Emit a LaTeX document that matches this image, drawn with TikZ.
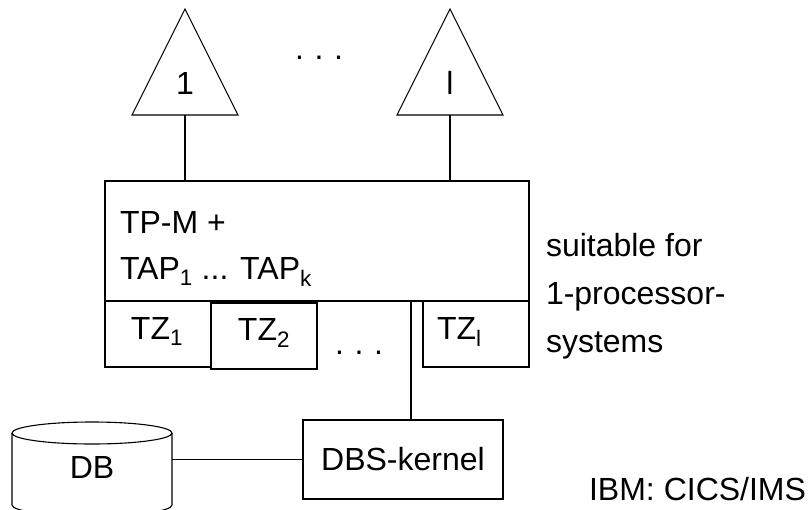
\documentclass[tikz,border=0pt]{standalone}
\usepackage{fontspec}
\setmainfont{Liberation Sans}
\begin{document}
\begin{tikzpicture}[x=1pt,y=-1pt,line width=1.1pt,
  every node/.style={inner sep=0pt,outer sep=0pt},
  lbl/.style={font=\fontsize{32}{38}\selectfont},
  box/.style={draw,minimum width=106pt,minimum height=66pt}]
\useasboundingbox (0,0) rectangle (811,509);
\clip (0,0) rectangle (811,509);

% terminals (triangles)
\draw (185,9) -- (238,115) -- (132,115) -- cycle;
\draw (450,9) -- (503,115) -- (397,115) -- cycle;
\coordinate (t1) at (185,115);
\coordinate (tl) at (450,115);
\node[lbl] (n1) at (185,83) {1};
\node[lbl] (nl) at (450,83) {l};
\node[lbl,anchor=base] (topdots) at (319,59) {.\,\,.\,\,.};

% TP monitor box
\node[draw,minimum width=424pt,minimum height=120pt] (main) at (317,241) {};
\node[lbl,anchor=base west] (tpm) at (120,233) {TP-M +};
\node[lbl,anchor=base west] (tap) at (120,279) {TAP\textsubscript{1} ... TAP\textsubscript{k}};

\draw (t1) -- (t1 |- main.north);
\draw (tl) -- (tl |- main.north);

% TZ boxes
\node[box] (tz1) at (158,334) {};
\node[box] (tz2) at (264,336) {};
\node[box] (tzl) at (476,334) {};
\node[lbl,anchor=base] (tz1t) at (157,339) {TZ\textsubscript{1}};
\node[lbl,anchor=base] (tz2t) at (264,340) {TZ\textsubscript{2}};
\node[lbl,anchor=base west] (tzlt) at (437,339) {TZ\textsubscript{l}};
\node[lbl,anchor=base] (botdots) at (359,354) {.\,\,.\,\,.};

% DBS kernel
\node[draw,lbl,minimum width=200pt,minimum height=79pt] (dbs) at (403,459.5) {DBS-kernel};
\draw ([xshift=8pt]dbs.north) -- ([xshift=8pt]dbs.north |- main.south);

% database cylinder
\draw (12,433) -- (12,505) arc[start angle=180,end angle=0,x radius=80,y radius=11] -- (172,433);
\draw (92,433) ellipse[x radius=80,y radius=11];
\node[lbl,minimum width=160pt] (db) at (92,467) {DB};
\draw (dbs.west) -- (dbs.west -| db.east);

% side notes
\node[lbl,anchor=base west] (s1) at (546,256) {suitable for};
\node[lbl,anchor=base west] (s2) at (546,304) {1-processor-};
\node[lbl,anchor=base west] (s3) at (546,352) {systems};
\node[lbl,anchor=base east] (ibm) at (806,500) {IBM: CICS/IMS};
\end{tikzpicture}
\end{document}
